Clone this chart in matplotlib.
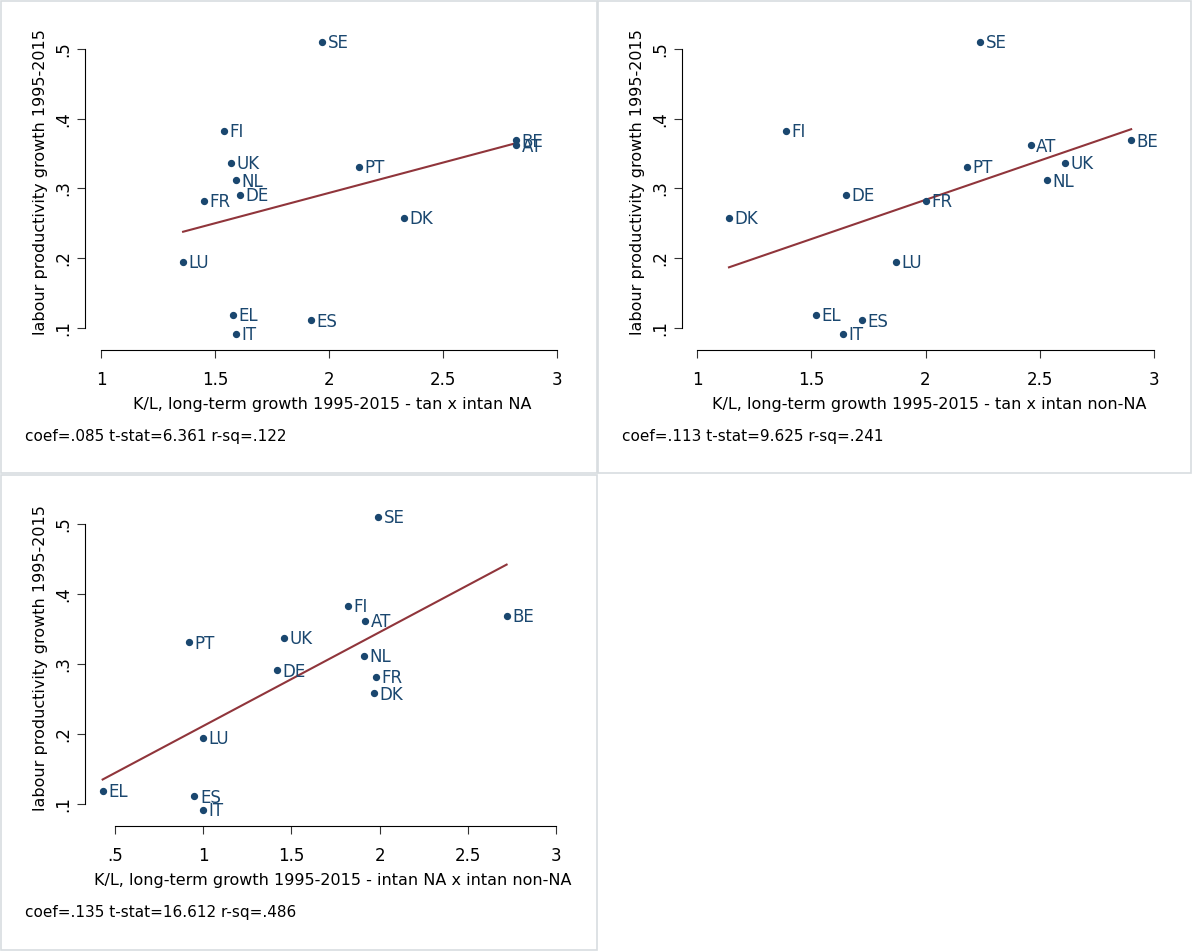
import matplotlib
matplotlib.use("Agg")
import matplotlib.pyplot as plt
from matplotlib.patches import Rectangle

W, H = 1192, 951
countries = ["SE","FI","BE","AT","PT","UK","NL","DE","FR","DK","LU","EL","ES","IT"]
lp = [.51,.383,.369,.362,.331,.337,.312,.291,.282,.258,.195,.119,.111,.092]
x1 = [1.97,1.54,2.82,2.82,2.13,1.57,1.59,1.61,1.45,2.33,1.36,1.58,1.92,1.59]
x2 = [2.24,1.39,2.90,2.46,2.18,2.61,2.53,1.65,2.00,1.14,1.87,1.52,1.72,1.64]
x3 = [1.99,1.82,2.72,1.92,.92,1.46,1.91,1.42,1.98,1.97,1.00,.43,.95,1.00]
fits = [((1.36,2.82),(.238,.365)), ((1.14,2.90),(.187,.385)), ((.43,2.72),(.135,.442))]
xlabels = ["K/L, long-term growth 1995-2015 - tan x intan NA",
           "K/L, long-term growth 1995-2015 - tan x intan non-NA",
           "K/L, long-term growth 1995-2015 - intan NA x intan non-NA"]
stats = ["coef=.085 t-stat=6.361 r-sq=.122","coef=.113 t-stat=9.625 r-sq=.241",
         "coef=.135 t-stat=16.612 r-sq=.486"]
xticks = [[1,1.5,2,2.5,3],[1,1.5,2,2.5,3],[.5,1,1.5,2,2.5,3]]
xtl = [["1","1.5","2","2.5","3"],["1","1.5","2","2.5","3"],[".5","1","1.5","2","2.5","3"]]
yticks = [.1,.2,.3,.4,.5]; ytl = [".1",".2",".3",".4",".5"]

navy = "#1a476f"; red = "#90353b"
fig = plt.figure(figsize=(W/100, H/100), dpi=100)
fig.patch.set_facecolor("white")
for (l,b,w,h) in [(1,478,596,472),(598,478,593,472),(1,1,596,475)]:
    fig.add_artist(Rectangle((l/W,b/H),w/W,h/H,transform=fig.transFigure,fill=False,ec="#d8dde0",lw=1.2))

geo = [(101,557,328,49,0,0),(697,1154,328,49,597,0),(115,556,804,524,0,476)]
xs = [x1,x2,x3]
for i in range(3):
    xa, xb, yp1, yp5, ox, oy = geo[i]
    t0, t1 = xticks[i][0], xticks[i][-1]
    sx = (xb-xa)/(t1-t0); sy = (yp1-yp5)/0.4
    L = ox+85; R = ox+580; T = oy+15; B = oy+350
    ax = fig.add_axes([L/W, 1-B/H, (R-L)/W, (B-T)/H])
    ax.set_xlim(t0-(xa-L)/sx, t0+(R-xa)/sx)
    ax.set_ylim(.1-(B-yp1)/sy, .1+(yp1-T)/sy)
    for s in ["top","right"]: ax.spines[s].set_visible(False)
    ax.spines["bottom"].set_bounds(t0,t1); ax.spines["left"].set_bounds(.1,.5)
    ax.set_xticks(xticks[i]); ax.set_xticklabels(xtl[i], fontsize=12)
    ax.set_yticks(yticks); ax.set_yticklabels(ytl, fontsize=12, rotation=90, va="center")
    ax.tick_params(length=6, color="#333")
    ax.tick_params(axis="x", pad=9)
    ax.set_xlabel(xlabels[i], fontsize=11.5, labelpad=6)
    ax.set_ylabel("labour productivity growth 1995-2015", fontsize=11.5, labelpad=4)
    ax.plot(fits[i][0], fits[i][1], color=red, lw=1.5)
    ax.scatter(xs[i], lp, s=18, color=navy, zorder=3)
    for c, xv, yv in zip(countries, xs[i], lp):
        ax.annotate(c, (xv, yv), xytext=(4, -1), textcoords="offset points",
                    fontsize=12, color=navy, va="center", fontweight="medium")
    fig.text((ox+25)/W, 1-(oy+437)/H, stats[i], fontsize=11, va="center")

fig.savefig("out.png", dpi=100)
